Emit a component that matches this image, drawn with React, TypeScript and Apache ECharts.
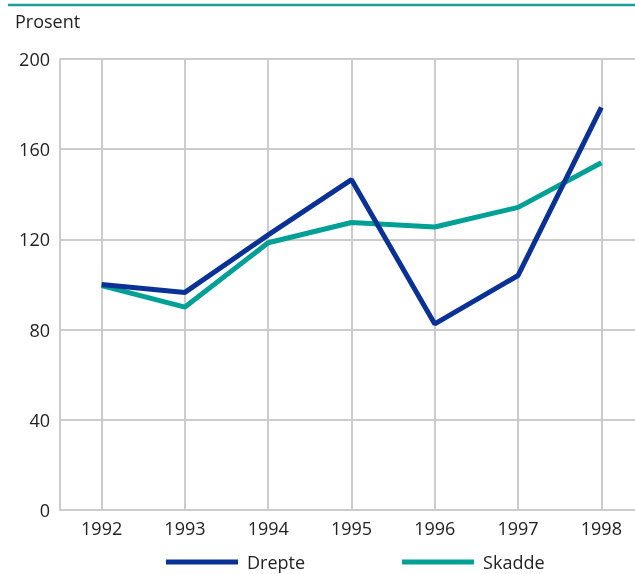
import React, { useEffect, useRef } from "react";
import * as echarts from "echarts";

const years = ["1992", "1993", "1994", "1995", "1996", "1997", "1998"];
const drepte = [100, 96.5, 122, 146.5, 82.5, 104, 178.5];
const skadde = [99.5, 90, 118.5, 127.5, 125.5, 134.2, 154];
const yTicks = { min: 0, max: 200, interval: 40 };

const FONT = "'Open Sans', 'Noto Sans', sans-serif";
const GRID_COLOR = "#cccccc";
const BLUE = "#0a3296";
const TEAL = "#00a096";

export default function App() {
  const ref = useRef<HTMLDivElement>(null);
  useEffect(() => {
    if (!ref.current) return;
    const chart = echarts.init(ref.current, undefined, { renderer: "svg" });
    chart.setOption({
      animation: false,
      textStyle: { fontFamily: FONT },
      grid: { left: 60, top: 59, bottom: 64, right: 0, containLabel: false },
      graphic: [
        {
          type: "line",
          shape: { x1: 8, y1: 5, x2: 643, y2: 5 },
          style: { stroke: "#1a9e96", lineWidth: 2.5 },
        },
        {
          type: "text",
          left: 15,
          top: 12,
          style: { text: "Prosent", fontSize: 18, fill: "#222", fontFamily: FONT },
        },
      ],
      legend: {
        bottom: 3,
        left: 166,
        padding: 0,
        itemGap: 97,
        itemWidth: 72,
        itemHeight: 5,
        icon: "rect",
        textStyle: { fontSize: 18, color: "#222", fontFamily: FONT, padding: [0, 0, 0, 4] },
        data: ["Drepte", "Skadde"],
      },
      xAxis: {
        type: "category",
        data: years,
        boundaryGap: true,
        axisLine: { show: true, lineStyle: { color: GRID_COLOR, width: 2 } },
        axisTick: { show: false },
        axisLabel: { fontSize: 18, color: "#222", margin: 9, fontFamily: FONT },
        splitLine: { show: true, alignWithLabel: true, lineStyle: { color: GRID_COLOR, width: 2 } },
      },
      yAxis: {
        type: "value",
        min: yTicks.min,
        max: yTicks.max,
        interval: yTicks.interval,
        axisLine: { show: true, lineStyle: { color: GRID_COLOR, width: 2 } },
        axisTick: { show: false },
        axisLabel: { fontSize: 18, color: "#222", margin: 10, fontFamily: FONT },
        splitLine: { show: true, lineStyle: { color: GRID_COLOR, width: 2 } },
      },
      series: [
        {
          name: "Drepte",
          type: "line",
          data: drepte,
          symbol: "none",
          lineStyle: { color: BLUE, width: 5 },
          itemStyle: { color: BLUE },
          z: 3,
        },
        {
          name: "Skadde",
          type: "line",
          data: skadde,
          symbol: "none",
          lineStyle: { color: TEAL, width: 5 },
          itemStyle: { color: TEAL },
          z: 2,
        },
      ],
    });
    return () => chart.dispose();
  }, []);
  return <div ref={ref} style={{ width: 643, height: 574, position: "fixed", left: 0, top: 0 }} />;
}
